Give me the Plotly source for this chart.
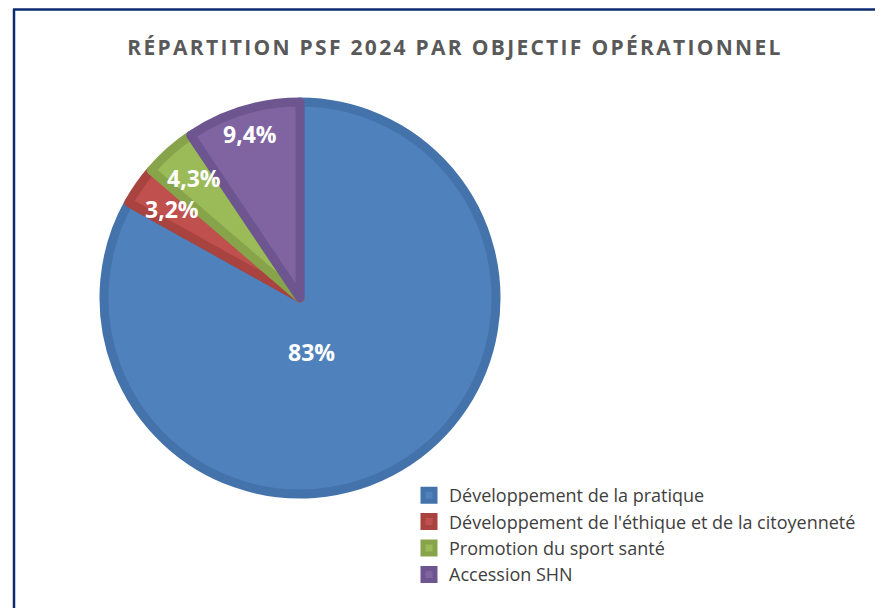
import math
import plotly.graph_objects as go

# the page body adds 8px around the figure, so the figure is a bit smaller
W, H = 875, 600

labels = [
    "Développement de la pratique",
    "Développement de l'éthique et de la citoyenneté",
    "Promotion du sport santé",
    "Accession SHN",
]
values = [83.0, 3.2, 4.3, 9.4]
texts = ["83%", "3,2%", "4,3%", "9,4%"]

fills = ["#4f81bd", "#c0504d", "#9bbb59", "#8064a2"]
edges = ["#4473ab", "#a9433f", "#87a44b", "#6d5690"]

# pie geometry (figure pixels)
cx, cy, rad = 292, 290, 196
lab_r = [0.275, 0.78, 0.80, 0.855]      # label distance, fraction of outer radius
lab_shift = [18, 0, 0, 0]               # degrees

fig = go.Figure(go.Pie(
    labels=labels,
    values=values,
    textinfo="none",
    sort=False,
    direction="clockwise",
    rotation=0,
    marker=dict(colors=fills, line=dict(color=edges, width=9)),
    domain=dict(x=[(cx - rad) / W, (cx + rad) / W],
                y=[(H - cy - rad) / H, (H - cy + rad) / H]),
    hoverinfo="label+percent",
))

# data labels at the middle angle of each slice
total = sum(values)
cum = 0
annots = []
for v, t, r, s in zip(values, texts, lab_r, lab_shift):
    mid = (cum + v / 2) / total * 360 + s
    cum += v
    a = math.radians(mid)
    px_ = cx + r * 200 * math.sin(a)
    py_ = cy - r * 200 * math.cos(a)
    annots.append(dict(
        x=px_ / W, y=1 - py_ / H, xref="paper", yref="paper",
        text="<b>" + t + "</b>", showarrow=False,
        font=dict(family="Open Sans", size=23, color="white"),
        xanchor="center", yanchor="middle",
    ))

fig.update_layout(
    width=W, height=H,
    margin=dict(l=0, r=0, t=0, b=0),
    paper_bgcolor="white",
    title=dict(
        text='<b><span style="letter-spacing:2.3px">RÉPARTITION PSF 2024 PAR OBJECTIF OPÉRATIONNEL</span></b>',
        font=dict(family="Open Sans", size=21, color="#595959"),
        x=447 / W, xanchor="center",
        y=1 - 40 / H, yanchor="middle",
    ),
    annotations=annots,
    legend=dict(
        x=401 / W, xanchor="left",
        y=1 - 469 / H, yanchor="top",
        font=dict(family="Open Sans", size=18, color="#404040"),
        tracegroupgap=0,
        itemwidth=30,
    ),
    shapes=[
        dict(type="line", xref="paper", yref="paper",
             x0=6 / W, x1=6 / W, y0=0, y1=1 - 1 / H,
             line=dict(color="#0b2b70", width=2.5)),
        dict(type="line", xref="paper", yref="paper",
             x0=5 / W, x1=1, y0=1 - 1.5 / H, y1=1 - 1.5 / H,
             line=dict(color="#0b2b70", width=2.5)),
    ],
)

fig.write_html("out.html")
